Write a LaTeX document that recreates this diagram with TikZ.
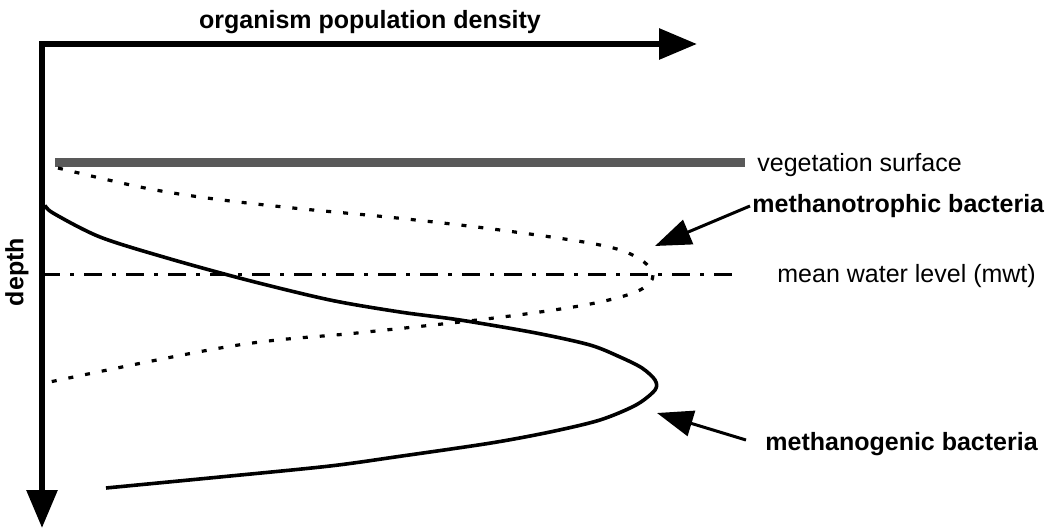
\documentclass[tikz,border=0pt]{standalone}
\usepackage{fontspec}
\setmainfont{Liberation Sans}
\usetikzlibrary{arrows.meta}

\begin{document}
\begin{tikzpicture}[x=0.5pt,y=-0.5pt,
		axis/.style={line width=3pt,-{Triangle[length=19pt,width=15pt]}},
		pointer/.style={line width=1.5pt,-{Triangle[length=18pt,width=13pt]}},
		txt/.style={font=\fontsize{12.5}{15}\selectfont,inner sep=1pt},
		boldtxt/.style={txt,font=\fontsize{12.5}{15}\selectfont\bfseries},
		surface/.style={line width=4.5pt,black!65},
		waterlevel/.style={line width=1.5pt,dash pattern=on 9pt off 5pt on 2pt off 5pt},
		trophic/.style={line width=1.6pt,dash pattern=on 2.5pt off 6pt},
		genic/.style={line width=1.8pt}]
	\useasboundingbox (0,0) rectangle (1055,529);

	% axes
	\coordinate (corner) at (42,44);
	\coordinate (xend) at (697,44);
	\coordinate (yend) at (42,528);
	\draw[axis] ([xshift=-1.5pt]corner) -- (xend);
	\draw[axis] (corner) -- (yend);
	\node[boldtxt] (xlabel) at (370,22) {organism population density};
	\node[boldtxt,rotate=90] (ylabel) at (17,272) {depth};

	% levels
	\coordinate (veg1) at (55,163);
	\coordinate (veg2) at (745,163);
	\draw[surface] (veg1) -- (veg2);
	\node[txt,anchor=west] (vegtxt) at (755,165) {vegetation surface};
	\coordinate (mwl1) at (42,275);
	\coordinate (mwl2) at (735,275);
	\draw[waterlevel] (mwl1) -- (mwl2);
	\node[txt,anchor=west] (mwltxt) at (775,276) {mean water level (mwt)};

	% profiles
	\draw[trophic] plot[smooth,tension=0.6] coordinates {(58,168) (140,187) (207,198) (293,208) (397,218) (500,230) (600,245) (638,258) (653,275) (640,290) (600,302) (540,312) (460,322) (357,333) (232,346) (45,383)};
	\draw[genic] plot[smooth,tension=0.5] coordinates {(45,205) (53,213) (100,237) (167,258) (247,280) (330,300) (400,312) (460,320) (536,333) (590,345) (620,357) (642,368) (655,380) (655,390) (636,405) (600,420) (550,432) (491,443) (402,456) (330,466) (220,477) (106,488)};

	% labels
	\node[boldtxt,anchor=west] (mtro) at (750,206) {methanotrophic bacteria};
	\coordinate (mtrotip) at (655,246);
	\draw[pointer] (mtro.west) -- (mtrotip);
	\node[boldtxt,anchor=west] (mgen) at (763,444) {methanogenic bacteria};
	\coordinate (mgentip) at (657,413);
	\draw[pointer] ([xshift=-8.5pt,yshift=2pt]mgen.west) -- (mgentip);
\end{tikzpicture}
\end{document}
